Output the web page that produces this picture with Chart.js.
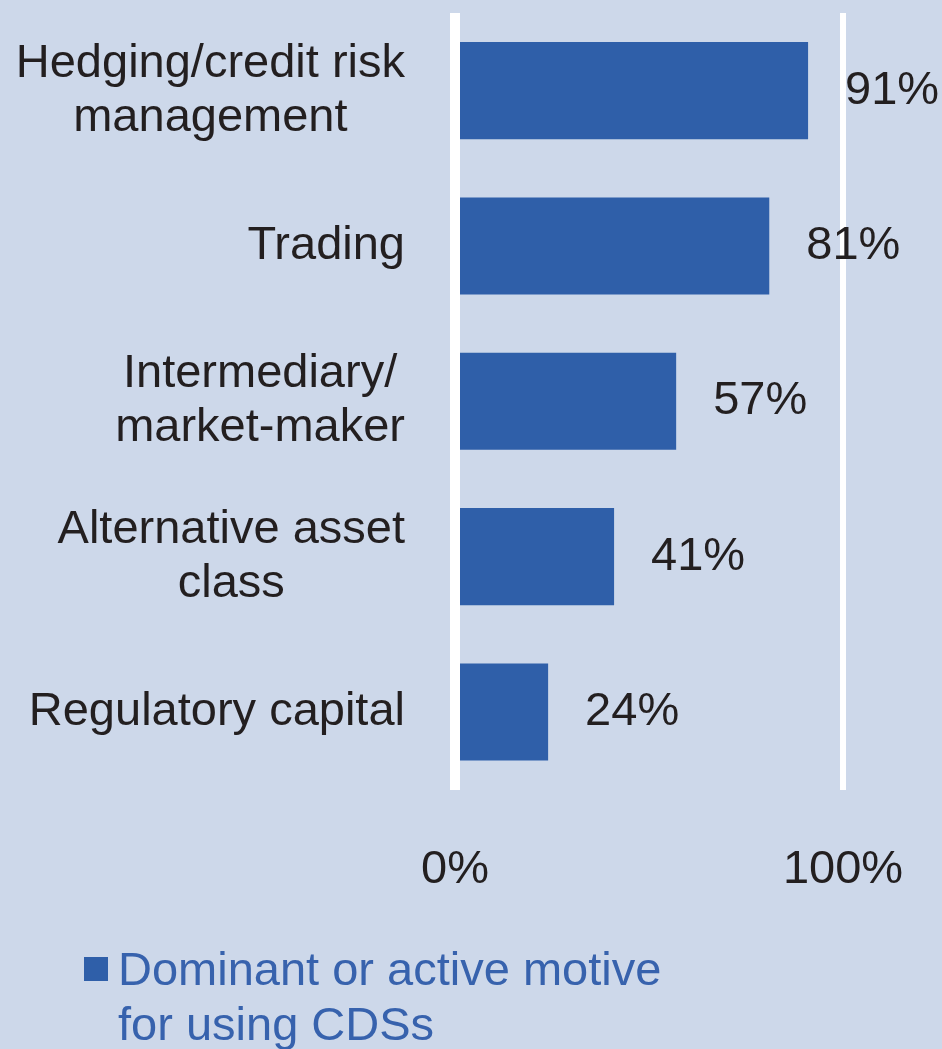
<!DOCTYPE html>
<html>
<head>
<meta charset="utf-8">
<script src="https://cdn.jsdelivr.net/npm/chart.js@4/dist/chart.umd.min.js"></script>
<style>
    html, body { margin: 0; padding: 0; background: #cdd8ea; }
    #wrap { position: relative; width: 942px; height: 1049px; }
    #legend {
        position: absolute; left: 84px; top: 941px;
        font: 47px "Liberation Sans", Arial, sans-serif;
        line-height: 55px; color: #3762ad;
    }
    #legend .box { position: absolute; left: 0; top: 16px; width: 24px; height: 24px; background: #2f5fa9; }
    #legend .txt { margin-left: 34px; }
</style>
</head>
<body>
<div id="wrap">
    <canvas id="cdsChart" width="942" height="1049"></canvas>
    <div id="legend"><span class="box"></span><div class="txt">Dominant or active motive<br>for using CDSs</div></div>
</div>
<script>
// Dados
const categories = [
    ['Hedging/credit risk', 'management'],
    ['Trading'],
    ['Intermediary/', 'market-maker'],
    ['Alternative asset', 'class'],
    ['Regulatory capital']
];
const motiveValues = [91, 81, 57, 41, 24];
const xTicks = [0, 100];

const FONT = '"Liberation Sans", Arial, sans-serif';
const TEXT = '#231f20';
const BAR = '#2f5fa9';

// rótulos do eixo y: bloco alinhado à direita, linhas centradas
const yLabels = {
    id: 'yLabels',
    afterDraw(chart) {
        const { ctx, scales: { y } } = chart;
        ctx.save();
        ctx.font = '47px ' + FONT;
        ctx.fillStyle = TEXT;
        ctx.textAlign = 'center';
        ctx.textBaseline = 'middle';
        const right = y.right - 50;
        categories.forEach((lines, i) => {
            const w = Math.max(...lines.map(l => ctx.measureText(l).width));
            const cx = right - w / 2;
            const yc = y.getPixelForTick(i);
            lines.forEach((l, k) => {
                ctx.fillText(l, cx, yc + (k - (lines.length - 1) / 2) * 54);
            });
        });
        ctx.restore();
    }
};

// valores à direita das barras
const valueLabels = {
    id: 'valueLabels',
    afterDraw(chart) {
        const { ctx } = chart;
        const meta = chart.getDatasetMeta(0);
        ctx.save();
        ctx.font = '47px ' + FONT;
        ctx.fillStyle = TEXT;
        ctx.textAlign = 'left';
        ctx.textBaseline = 'middle';
        meta.data.forEach((bar, i) => {
            ctx.fillText(motiveValues[i] + '%', bar.x + 37, bar.y);
        });
        ctx.restore();
    }
};

new Chart(document.getElementById('cdsChart'), {
    type: 'bar',
    data: {
        labels: categories,
        datasets: [{
            label: 'Dominant or active motive for using CDSs',
            data: motiveValues,
            backgroundColor: BAR,
            borderWidth: 0,
            categoryPercentage: 1,
            barPercentage: 0.625
        }]
    },
    options: {
        indexAxis: 'y',
        responsive: false,
        animation: false,
        layout: { padding: { left: 0, right: 99, top: 13, bottom: 99 } },
        plugins: {
            legend: { display: false },
            tooltip: { enabled: false }
        },
        scales: {
            x: {
                min: 0,
                max: 100,
                afterBuildTicks: scale => { scale.ticks = xTicks.map(v => ({ value: v })); },
                afterFit: scale => { scale.paddingLeft = 0; scale.paddingRight = 0; },
                ticks: {
                    padding: 52,
                    color: TEXT,
                    font: { family: FONT, size: 47 },
                    maxRotation: 0,
                    callback: v => v + '%'
                },
                grid: {
                    color: '#ffffff',
                    lineWidth: c => (c.tick && c.tick.value === 0 ? 10 : 6),
                    drawTicks: false,
                    z: 1
                },
                border: { display: false }
            },
            y: {
                ticks: { display: false },
                grid: { display: false, drawTicks: false },
                border: { display: false },
                afterFit: scale => { scale.width = 455; }
            }
        }
    },
    plugins: [yLabels, valueLabels]
});
</script>
</body>
</html>
